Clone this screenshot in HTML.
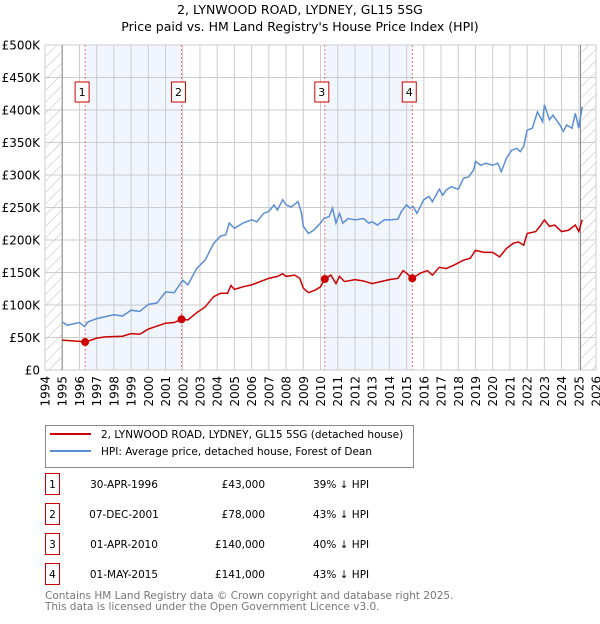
<!DOCTYPE html>
<html><head><meta charset="utf-8"><style>
body{margin:0;background:#fff;font-family:"DejaVu Sans","Liberation Sans",sans-serif;}
svg text{font-family:"DejaVu Sans","Liberation Sans",sans-serif;}
</style></head><body>
<svg id="chart" width="600" height="620" viewBox="0 0 600 620" xmlns="http://www.w3.org/2000/svg">
<defs><pattern id="hatch" width="8" height="8" patternUnits="userSpaceOnUse" patternTransform="rotate(45)"><line x1="0" y1="0" x2="0" y2="8" stroke="#bbb" stroke-width="1"/></pattern></defs>
<text x="300" y="14" text-anchor="middle" font-size="12.5">2, LYNWOOD ROAD, LYDNEY, GL15 5SG</text>
<text x="300" y="31" text-anchor="middle" font-size="12.5">Price paid vs. HM Land Registry's House Price Index (HPI)</text>
<g id="plot"></g>
<g>
<rect x="45.5" y="425.5" width="368" height="42" fill="#fff" stroke="#888"/>
<line x1="50" y1="434" x2="91" y2="434" stroke="#cc0000" stroke-width="2"/>
<text x="101" y="438" font-size="10.5">2, LYNWOOD ROAD, LYDNEY, GL15 5SG (detached house)</text>
<line x1="50" y1="451" x2="91" y2="451" stroke="#5b8fd4" stroke-width="2"/>
<text x="101" y="455" font-size="10.5">HPI: Average price, detached house, Forest of Dean</text>
</g>
<g id="table"></g>
<text x="45" y="599" font-size="10.5" fill="#777">Contains HM Land Registry data © Crown copyright and database right 2025.</text>
<text x="45" y="610" font-size="10.5" fill="#777">This data is licensed under the Open Government Licence v3.0.</text>
</svg>
<script>
const hpiYears=[1995,1995.3,1996,1996.3,1996.5,1997,1998,1998.5,1999,1999.5,2000,2000.5,2001,2001.5,2002,2002.3,2002.8,2003.3,2003.8,2004.2,2004.5,2004.7,2005,2005.5,2006,2006.3,2006.7,2007,2007.3,2007.5,2007.8,2008,2008.3,2008.7,2008.9,2009,2009.3,2009.6,2010,2010.2,2010.5,2010.7,2010.9,2011.1,2011.3,2011.6,2012,2012.5,2012.8,2013,2013.3,2013.7,2014,2014.5,2014.7,2015,2015.2,2015.4,2015.6,2016,2016.3,2016.5,2016.9,2017.1,2017.3,2017.6,2018,2018.3,2018.6,2018.9,2019,2019.3,2019.6,2020,2020.3,2020.5,2020.8,2021.1,2021.4,2021.6,2021.8,2022,2022.3,2022.6,2022.9,2023,2023.3,2023.5,2023.9,2024.1,2024.3,2024.6,2024.8,2025,2025.2];
const hpiValues=[74,69,73,67,74,79,85,83,92,90,101,103,120,119,138,131,156,169,195,206,208,226,218,226,231,228,241,244,254,246,262,254,251,259,241,221,210,215,226,233,236,249,226,241,226,233,231,233,226,228,223,231,231,232,244,254,249,251,241,262,267,259,278,269,277,282,278,295,297,308,321,315,318,315,318,305,326,338,341,336,344,369,372,397,382,408,385,392,377,367,377,372,395,372,405];
const priceYears=[1995,1996,1996.33,1997,1997.5,1998.5,1999,1999.5,2000,2001,2001.5,2001.93,2002.3,2002.8,2003.3,2003.8,2004.2,2004.6,2004.8,2005,2005.5,2006,2006.5,2007,2007.5,2007.8,2008,2008.5,2008.8,2009,2009.3,2009.7,2010,2010.25,2010.6,2010.9,2011.1,2011.4,2012,2012.5,2013,2013.5,2014,2014.5,2014.8,2015,2015.33,2015.8,2016.2,2016.5,2016.9,2017.3,2017.8,2018.3,2018.7,2019,2019.5,2020,2020.4,2020.8,2021.2,2021.5,2021.8,2022,2022.5,2022.8,2023,2023.3,2023.6,2024,2024.4,2024.8,2025,2025.2];
const priceValues=[46,44,43,49,51,52,56,55,63,72,73,78,77,88,97,113,118,118,130,124,128,131,136,141,144,148,144,146,141,126,119,123,128,140,146,133,144,136,139,137,133,136,139,141,153,149,141,149,153,146,158,156,162,169,172,184,181,181,174,187,195,197,192,210,213,223,231,221,223,213,215,223,213,231];
const saleYears=[1996.33,2001.93,2010.25,2015.33];
const saleValues=[43,78,140,141];
const saleLabels=["1","2","3","4"];
const saleDates=["30-APR-1996","07-DEC-2001","01-APR-2010","01-MAY-2015"];
const salePrices=["£43,000","£78,000","£140,000","£141,000"];
const saleDiffs=["39% ↓ HPI","43% ↓ HPI","40% ↓ HPI","43% ↓ HPI"];
const yTicks=[0,50,100,150,200,250,300,350,400,450,500];
const yTickLabels=["£0","£50K","£100K","£150K","£200K","£250K","£300K","£350K","£400K","£450K","£500K"];
const xTicks=[1994,1995,1996,1997,1998,1999,2000,2001,2002,2003,2004,2005,2006,2007,2008,2009,2010,2011,2012,2013,2014,2015,2016,2017,2018,2019,2020,2021,2022,2023,2024,2025,2026];
const NS="http://www.w3.org/2000/svg";
const L=45,R=596,T=45,B=370;
const xs=y=>L+(y-1994)/(2026-1994)*(R-L);
const ys=v=>B-v/500*(B-T);
const plot=document.getElementById('plot');
function mk(tag,attrs,parent){const e=document.createElementNS(NS,tag);for(const k in attrs)e.setAttribute(k,attrs[k]);(parent||plot).appendChild(e);return e;}
let e;
e=mk('rect',{x:L,y:T,width:R-L,height:B-T,fill:'#fff'});


for(const [a,b] of [[saleYears[0],saleYears[1]],[saleYears[2],saleYears[3]]]){
 e=mk('rect',{x:xs(a),y:T,width:xs(b)-xs(a),height:B-T,fill:'#eef3fd',opacity:0.8});
 
 
}
e=mk('rect',{x:L,y:T,width:xs(1995)-L,height:B-T,fill:'url(#hatch)'});


e=mk('rect',{x:xs(2025.1),y:T,width:R-xs(2025.1),height:B-T,fill:'url(#hatch)'});


xTicks.forEach((t,i)=>{
 e=mk('line',{x1:xs(t),x2:xs(t),y1:T,y2:B,stroke:'#ccc','stroke-width':1});
 
 
 e=mk('text',{x:0,y:0,'font-size':12,'text-anchor':'end',transform:`translate(${xs(t)+4.5},${B+6}) rotate(-90)`});
 e.textContent=t;
 
 
});
yTicks.forEach((t,i)=>{
 e=mk('line',{x1:L,x2:R,y1:ys(t),y2:ys(t),stroke:'#ccc','stroke-width':1});
 
 
 e=mk('text',{x:L-5,y:ys(t)+4.5,'font-size':12,'text-anchor':'end'});
 e.textContent=yTickLabels[i];
 
 
});
e=mk('line',{x1:xs(1995),x2:xs(1995),y1:T,y2:B,stroke:'#888'});


e=mk('line',{x1:xs(2025.1),x2:xs(2025.1),y1:T,y2:B,stroke:'#888'});


saleYears.forEach((s,i)=>{
 e=mk('line',{x1:xs(s),x2:xs(s),y1:T,y2:B,stroke:'#ee5555','stroke-dasharray':'2,2','stroke-width':0.8});
 
 
});
e=mk('polyline',{points:hpiYears.map((y,i)=>xs(y)+','+ys(hpiValues[i])).join(' '),fill:'none',stroke:'#5b8fd4','stroke-width':1.5});


e=mk('polyline',{points:priceYears.map((y,i)=>xs(y)+','+ys(priceValues[i])).join(' '),fill:'none',stroke:'#cc0000','stroke-width':1.5});


saleYears.forEach((s,i)=>{
 e=mk('circle',{cx:xs(s),cy:ys(saleValues[i]),r:4,fill:'#cc0000'});
 
 
 e=mk('rect',{x:xs(s)-10,y:82,width:14,height:20,fill:'#fff',stroke:'#cc0000'});
 
 
 e=mk('text',{x:xs(s)-3,y:96,'font-size':11,'text-anchor':'middle'});
 e.textContent=saleLabels[i];
 
 
});
const tbl=document.getElementById('table');
saleLabels.forEach((lab,i)=>{
 const cy=484+i*30;
 e=mk('rect',{x:45.5,y:cy-10.5,width:14,height:21,fill:'#fff',stroke:'#cc0000'},tbl);
 
 
 e=mk('text',{x:52.5,y:cy+4,'font-size':10.5,'text-anchor':'middle'},tbl);
 e.textContent=lab;
 
 
 e=mk('text',{x:124,y:cy+4,'font-size':10.5,'text-anchor':'middle'},tbl);
 e.textContent=saleDates[i];
 
 
 e=mk('text',{x:265,y:cy+4,'font-size':10.5,'text-anchor':'end'},tbl);
 e.textContent=salePrices[i];
 
 
 e=mk('text',{x:313,y:cy+4,'font-size':10.5},tbl);
 e.textContent=saleDiffs[i];
 
 
});
</script>
</body></html>
